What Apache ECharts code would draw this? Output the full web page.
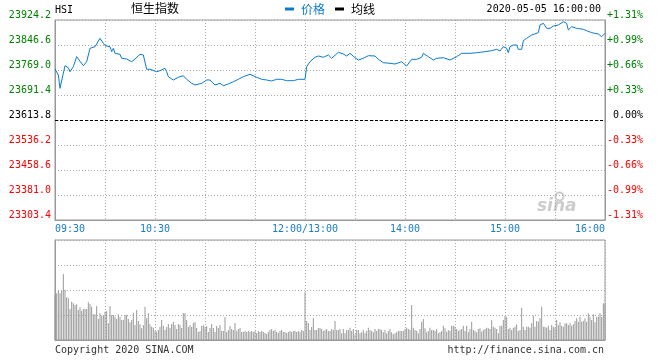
<!DOCTYPE html>
<html>
<head>
<meta charset="utf-8">
<script src="https://cdn.jsdelivr.net/npm/echarts@6/dist/echarts.min.js"></script>
<style>
html,body{margin:0;padding:0;background:#fff;}
#c{width:660px;height:360px;}
</style>
</head>
<body>
<div id="c"></div>
<script>
// ---- data ----
var symbol = 'HSI';
var indexName = '恒生指数';
var stamp = '2020-05-05 16:00:00';
var baseClose = 23613.8;
var priceMin = 23303.4;
var priceMax = 23924.2;
var priceStep = 77.6;
var xTickLabels = ['09:30', '10:30', '12:00/13:00', '14:00', '15:00', '16:00'];

var priceTimes = ['09:30','09:32','09:33','09:34','09:35','09:36','09:38','09:39','09:41','09:43','09:47','09:49','09:51','09:54','09:55','09:57','09:59','10:00','10:03','10:04','10:05','10:06','10:09','10:10','10:13','10:16','10:17','10:18','10:21','10:23','10:24','10:25','10:27','10:31','10:33','10:36','10:37','10:38','10:41','10:44','10:47','10:49','10:52','10:54','10:58','11:01','11:03','11:06','11:09','11:11','11:14','11:17','11:20','11:23','11:27','11:31','11:34','11:37','11:40','11:43','11:46','11:49','11:53','11:56','12:00','13:01','13:03','13:06','13:08','13:11','13:14','13:16','13:20','13:23','13:25','13:27','13:30','13:32','13:35','13:38','13:42','13:44','13:47','13:51','13:54','13:58','14:01','14:02','14:04','14:07','14:10','14:11','14:14','14:17','14:19','14:23','14:27','14:28','14:31','14:34','14:39','14:43','14:48','14:52','14:55','14:57','14:59','15:01','15:02','15:03','15:05','15:07','15:08','15:10','15:11','15:13','15:16','15:20','15:21','15:23','15:25','15:27','15:29','15:32','15:35','15:37','15:38','15:40','15:43','15:47','15:49','15:52','15:56','15:58','16:00'];
var prices = [23772.1,23753.5,23712.2,23712.2,23758.8,23782.3,23776.1,23763.7,23779.2,23810.3,23782.3,23794.8,23836.4,23841.3,23846.6,23867.4,23851.9,23844.4,23841.3,23825.8,23836.4,23820.8,23817.7,23805.3,23803.1,23794.8,23789.8,23803.1,23817.7,23815.6,23810.3,23771.2,23771.2,23763.7,23766.8,23774.3,23763.7,23748.2,23738.0,23746.3,23751.3,23740.1,23727.7,23722.4,23727.7,23738.0,23738.0,23722.4,23727.7,23720.3,23725.5,23732.7,23740.1,23748.2,23755.7,23746.3,23740.1,23738.0,23734.9,23740.1,23740.1,23735.8,23735.8,23740.1,23740.1,23779.2,23794.8,23808.4,23812.5,23808.4,23815.6,23805.3,23823.9,23818.7,23812.5,23820.8,23807.2,23800.0,23805.3,23813.4,23812.5,23802.2,23791.7,23789.8,23787.6,23794.8,23781.4,23777.4,23802.2,23802.2,23808.4,23820.8,23810.3,23800.0,23805.3,23807.2,23800.0,23794.8,23810.3,23820.8,23820.8,23822.7,23825.8,23828.9,23833.3,23828.0,23841.3,23836.4,23822.7,23841.3,23846.6,23846.6,23833.3,23833.3,23859.9,23867.4,23877.6,23884.8,23908.7,23914.0,23898.4,23898.4,23905.6,23908.7,23918.9,23914.0,23893.2,23903.4,23898.4,23895.3,23891.0,23884.8,23880.7,23872.4,23882.9];

// one volume value per trading minute (09:30 .. 16:00), arbitrary units
var volumes = [45,46.7,49.3,46.7,49.3,66,50,42.7,41.7,31,38.3,36.7,35,35.7,30,32.7,29.3,31,31,31,37.7,36,33.3,25.7,25.7,34,21,26.7,24.3,25,28.3,29,16.7,34,25,25,23.3,21,25.7,23.3,20,20,25,25,21,17.7,20,27.3,15,30,19,15.7,11.7,15,33.3,21.7,26.7,15.7,13.3,12.3,9,8.3,10,13.3,20,14.3,
10,13,16,12,16,18,15,11,16,15,12,27,27,20,13,15,13,17,18,12,8,9,14,15,13,14,8,12,16,12,8,14,12,15,9,9,23,8,10,14,11,10,17,9,11,12,8,8,9,8,9,8,9,8,9,7,9,8,9,8,7,6,8,10,11,9,10,8,7,9,10,8,8,7,8,9,8,9,9,8,9,8,10,9,48,
19,17,10,13,22,10,10,12,12,11,9,10,11,9,
9,11,10,19,10,10,11,6.7,11,6.7,10,10,12.3,9,11,5.7,10,10,6.7,7.7,10,6.7,9,12.3,10,9,7.7,11,9,11,11,10,7.7,10,6.7,9,11,7.7,5.7,6.7,7.7,9,9,9,9,11,12.3,11,10,35,12.3,10,9,6.7,11,18.3,21,11.7,7.7,9,12.3,10,10,9,11,6.7,7.7,9,14.3,11.7,8.3,10,9,14.3,14.3,13.3,11,9,10,11,14.3,9,14.3,7.7,11,18.3,10,9,7.7,11,11.7,8.3,10,11,12.3,11.7,11,20,13.3,12.3,11,6.7,14.3,14.3,20,24.3,23.3,11,12.3,10,12.3,13.3,15.7,9,10,32.3,13.3,10,13.3,13.3,12.3,16.7,24.3,13.3,19,18.3,21.7,33.3,13.3,13.3,12.3,14.3,10,15,13.3,12.3,20,15,17.7,14.3,13.3,16.7,16.7,15,16.7,14.3,15.7,19,21.7,18.3,23.3,18.3,19,21.7,18.3,26.7,23.3,20,25.7,17.7,23.3,23.3,26.7,23.3,36.7,35.7];

var copyText = 'Copyright 2020 SINA.COM';
var urlText = 'http://finance.sina.com.cn';

// ---- helpers ----
function toMinute(t) {
  var p = t.split('/')[0].split(':');
  var h = +p[0], m = +p[1];
  var tot = h * 60 + m;
  if (tot <= 12 * 60) return tot - (9 * 60 + 30);
  return 150 + (tot - 13 * 60);
}
var tickMinutes = xTickLabels.map(toMinute);
var tickLabelMap = {};
tickMinutes.forEach(function (m, i) { tickLabelMap[m] = xTickLabels[i]; });

var priceData = priceTimes.map(function (t, i) { return [toMinute(t), prices[i]]; });
var volData = volumes.map(function (v, i) { return [i, v]; });

var MONO = '"DejaVu Sans Mono", "Liberation Mono", monospace';
var CJK = '"Noto Sans CJK SC", "Noto Sans", sans-serif';
var BLUE = '#0b7bd0';
var GRIDC = '#aaaaaa';
var BORDER = '#999999';

function colorFor(v) {
  var d = Math.round((v - baseClose) * 10) / 10;
  if (Math.abs(d) < 0.05) return '#000000';
  return d > 0 ? '#008000' : '#ff0000';
}

var chart = echarts.init(document.getElementById('c'), null, {renderer: 'canvas'});
chart.setOption({
  animation: false,
  backgroundColor: '#ffffff',
  title: [
    {text: symbol, left: 55, top: 5, padding: 0, textStyle: {fontFamily: MONO, fontSize: 10, fontWeight: 'normal', color: '#000'}},
    {text: indexName, left: 131, top: 2, padding: 0, textStyle: {fontFamily: CJK, fontSize: 12, fontWeight: 'normal', color: '#000'}},
    {text: stamp, right: 59, top: 4, padding: 0, textStyle: {fontFamily: MONO, fontSize: 10, fontWeight: 'normal', color: '#000'}},
    {text: copyText, left: 55, top: 345, padding: 0, textStyle: {fontFamily: MONO, fontSize: 10, fontWeight: 'normal', color: '#333'}},
    {text: urlText, right: 56, top: 345, padding: 0, textStyle: {fontFamily: MONO, fontSize: 10, fontWeight: 'normal', color: '#333'}}
  ],
  legend: {
    left: 285, top: 3, padding: 0, icon: 'rect', itemWidth: 9, itemHeight: 3, itemGap: 10,
    textStyle: {fontFamily: CJK, fontSize: 12, padding: [0, 0, 0, 2]},
    selectedMode: false,
    data: [
      {name: '价格', textStyle: {color: BLUE}},
      {name: '均线', textStyle: {color: '#000'}}
    ]
  },
  graphic: [
    {type: 'text', left: 537, top: 198, silent: true,
     style: {text: 'sina', fill: '#cccccc', font: 'italic bold 17px "DejaVu Sans", sans-serif'}},
    {type: 'circle', left: 553, top: 190, silent: true,
     shape: {r: 4}, style: {fill: 'none', stroke: '#cccccc', lineWidth: 2}}
  ],
  grid: [
    {left: 55, right: 55, top: 20, height: 200, show: true, borderColor: BORDER, borderWidth: 1},
    {left: 55, right: 55, top: 240, height: 100, show: true, borderColor: BORDER, borderWidth: 1}
  ],
  xAxis: [
    {type: 'value', gridIndex: 0, min: 0, max: 330, interval: 30,
     axisLine: {show: true, lineStyle: {color: BORDER}},
     axisTick: {show: false},
     axisLabel: {
       customValues: tickMinutes, alignMinLabel: 'left', alignMaxLabel: 'right',
       margin: 4, color: '#1b7cc8', fontFamily: MONO, fontSize: 10,
       formatter: function (v) { return tickLabelMap[v] || ''; }
     },
     splitLine: {show: true, lineStyle: {color: GRIDC, type: [1, 2], width: 1}}},
    {type: 'value', gridIndex: 1, min: 0, max: 330, interval: 30,
     axisLine: {show: true, lineStyle: {color: BORDER}},
     axisTick: {show: false}, axisLabel: {show: false},
     splitLine: {show: true, lineStyle: {color: GRIDC, type: [1, 2], width: 1}}}
  ],
  yAxis: [
    {type: 'value', gridIndex: 0, min: priceMin, max: priceMax, interval: priceStep,
     axisLine: {show: true, lineStyle: {color: BORDER}},
     axisTick: {show: false},
     axisLabel: {margin: 4, fontFamily: MONO, fontSize: 10, verticalAlign: 'bottom',
       formatter: function (v) { return v.toFixed(1); },
       color: function (v) { return colorFor(+v); }},
     splitLine: {show: true, lineStyle: {color: GRIDC, type: [1, 2], width: 1}}},
    {type: 'value', gridIndex: 0, position: 'right', min: priceMin, max: priceMax, interval: priceStep,
     axisLine: {show: true, lineStyle: {color: BORDER}},
     axisTick: {show: false},
     axisLabel: {margin: 2, fontFamily: MONO, fontSize: 10, verticalAlign: 'bottom',
       formatter: function (v) {
         var p = (v - baseClose) / baseClose * 100;
         var s = Math.abs(p).toFixed(2) + '%';
         if (Math.abs(p) < 0.005) return ' ' + s;
         return (p > 0 ? '+' : '-') + s;
       },
       color: function (v) { return colorFor(+v); }},
     splitLine: {show: false}},
    {type: 'value', gridIndex: 1, min: 0, max: 100, interval: 25,
     axisLine: {show: true, lineStyle: {color: BORDER}},
     axisTick: {show: false}, axisLabel: {show: false},
     splitLine: {show: true, lineStyle: {color: GRIDC, type: [1, 2], width: 1}}}
  ],
  series: [
    {name: '价格', type: 'line', xAxisIndex: 0, yAxisIndex: 0, data: priceData,
     showSymbol: false, symbol: 'none', color: BLUE,
     lineStyle: {color: BLUE, width: 1}, z: 5,
     markLine: {silent: true, symbol: 'none', label: {show: false},
       lineStyle: {color: '#000', type: [3, 2], width: 1},
       data: [{yAxis: baseClose}]}},
    {name: '均线', type: 'line', xAxisIndex: 0, yAxisIndex: 0, data: [],
     showSymbol: false, color: '#000', lineStyle: {color: '#000', width: 1}},
    {name: '成交量', type: 'bar', xAxisIndex: 1, yAxisIndex: 2, data: volData,
     barWidth: 1, itemStyle: {color: '#999999'}, large: false}
  ]
});
</script>
</body>
</html>
